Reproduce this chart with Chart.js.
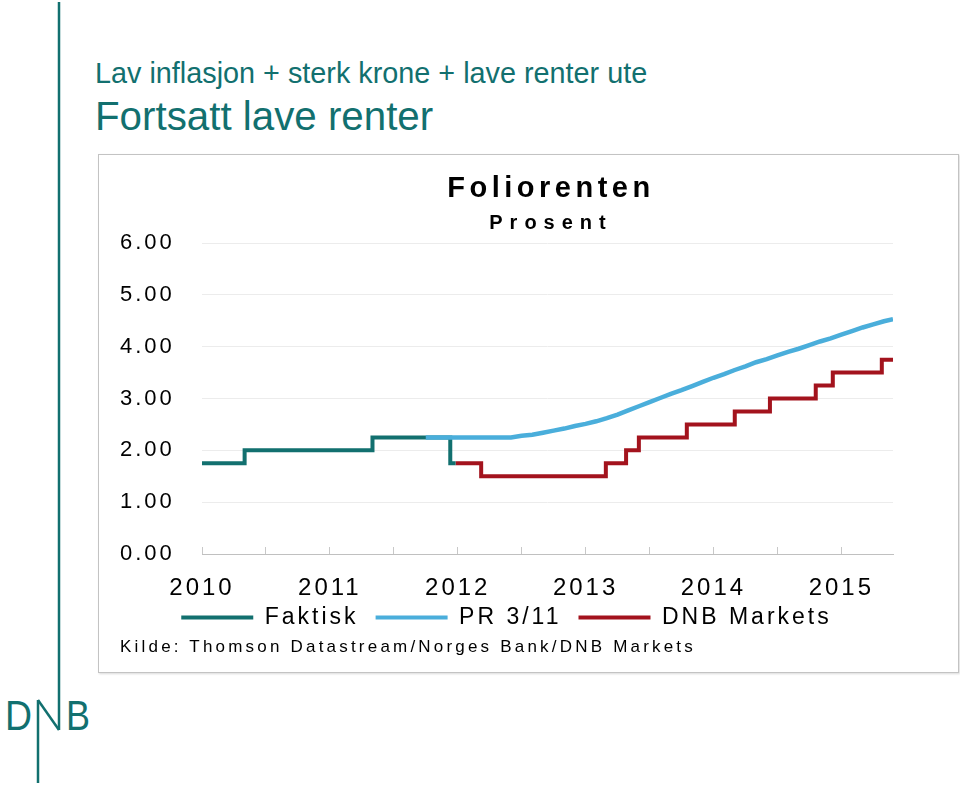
<!DOCTYPE html>
<html>
<head>
<meta charset="utf-8">
<title>Foliorenten</title>
<script src="https://cdn.jsdelivr.net/npm/chart.js@4.4.0/dist/chart.umd.min.js"></script>
<style>
  body { margin: 0; background: #fff; font-family: "Liberation Sans", Arial, sans-serif; }
  #page { position: relative; width: 960px; height: 785px; overflow: hidden; }
  .head { position: absolute; left: 95px; color: #12706f; line-height: 1; white-space: nowrap; }
  #h1 { top: 59px; font-size: 28.8px; }
  #h2 { top: 97px; font-size: 40.3px; }
  #logo { position: absolute; left: 0; top: 0; }
  #box { position: absolute; left: 98px; top: 154px; width: 859px; height: 517px;
         border: 1px solid #c3c3c3; box-shadow: 1px 1px 2px rgba(0,0,0,.15); background: #fff; }
  #chart { position: absolute; left: 0; top: 0; }
  .ct { position: absolute; line-height: 1; white-space: nowrap; color: #000; }
  #title { left: 252px; width: 400px; text-align: center; top: 18px; font-size: 29px; font-weight: bold; letter-spacing: 4.5px; }
  #sub { left: 252px; width: 400px; text-align: center; top: 57px; font-size: 20px; font-weight: bold; letter-spacing: 7px; }
  #kilde { left: 21px; top: 483px; font-size: 17px; letter-spacing: 3.2px; }
</style>
</head>
<body>
<div id="page">
  <svg id="logo" width="960" height="785">
    <g stroke="#12706f" stroke-width="2.5" fill="none">
      <line x1="59" y1="2" x2="59" y2="730"/>
      <line x1="38" y1="700" x2="59" y2="730"/>
      <line x1="38" y1="700" x2="38" y2="783"/>
    </g>
    <text x="5" y="730" font-size="42" fill="#12706f" textLength="27" lengthAdjust="spacingAndGlyphs">D</text>
    <text x="66" y="730" font-size="42" fill="#12706f" textLength="24" lengthAdjust="spacingAndGlyphs">B</text>
  </svg>
  <div class="head" id="h1">Lav inflasjon + sterk krone + lave renter ute</div>
  <div class="head" id="h2">Fortsatt lave renter</div>
  <div id="box">
    <canvas id="chart" width="859" height="517"></canvas>
    <div class="ct" id="title">Foliorenten</div>
    <div class="ct" id="sub">Prosent</div>
    <div class="ct" id="kilde">Kilde: Thomson Datastream/Norges Bank/DNB Markets</div>
  </div>
</div>
<script>
// x = months since January 2010
const yearLabels = ['2010', '2011', '2012', '2013', '2014', '2015'];
const seriesNames = ['Faktisk', 'PR 3/11', 'DNB Markets'];

const faktiskX = [0, 4, 16, 23.3, 23.8];
const faktiskY = [1.75, 2.00, 2.25, 1.75, 1.75];

const prX = [21, 22, 23, 24, 25, 26, 27, 28, 29, 30, 31, 32, 33, 34, 35, 36, 37, 38, 39, 40,
             41, 42, 43, 44, 45, 46, 47, 48, 49, 50, 51, 52, 53, 54, 55, 56, 57, 58, 59, 60,
             61, 62, 63, 64, 64.85];
const prY = [2.25, 2.25, 2.25, 2.25, 2.25, 2.25, 2.25, 2.25, 2.25, 2.28, 2.30, 2.34, 2.38, 2.42, 2.47, 2.51, 2.56, 2.62, 2.69, 2.77,
             2.85, 2.93, 3.01, 3.09, 3.16, 3.24, 3.32, 3.40, 3.47, 3.55, 3.62, 3.70, 3.76, 3.83, 3.90, 3.96, 4.03, 4.10, 4.16, 4.23,
             4.30, 4.37, 4.43, 4.49, 4.53];

const dnbX = [23.8, 26.2, 37.9, 39.8, 41.0, 45.5, 50.0, 53.3, 57.6, 59.2, 63.8, 64.85];
const dnbY = [1.75, 1.50, 1.75, 2.00, 2.25, 2.50, 2.75, 3.00, 3.25, 3.50, 3.75, 3.75];

const colors = ['#12706f', '#4aaedb', '#a3131d'];

const toPoints = (xs, ys) => xs.map((x, i) => ({ x: x, y: ys[i] }));

// wide letter spacing like the original export
const letterSpace = {
    id: 'letterSpace',
    beforeUpdate(chart) { chart.ctx.letterSpacing = '3px'; },
    beforeDraw(chart) { chart.ctx.letterSpacing = '3px'; }
};

// pull the legend up closer to the year labels
const legendNudge = {
    id: 'legendNudge',
    afterLayout(chart) {
        chart.legend.top -= 14;
        chart.legend.bottom -= 14;
    }
};

Chart.defaults.font.family = '"Liberation Sans", Arial, sans-serif';
Chart.defaults.color = '#000';

const line = (i, pts, extra) => Object.assign({
    label: seriesNames[i],
    data: pts,
    borderColor: colors[i],
    backgroundColor: colors[i],
    pointBorderColor: colors[i],
    pointBorderWidth: 4,
    borderWidth: 4,
    pointRadius: 0,
    fill: false
}, extra);

new Chart(document.getElementById('chart').getContext('2d'), {
    type: 'line',
    data: {
        datasets: [
            line(0, toPoints(faktiskX, faktiskY), { stepped: true, order: 1 }),
            line(1, toPoints(prX, prY), { tension: 0, order: 0, borderWidth: 4.5 }),
            line(2, toPoints(dnbX, dnbY), { stepped: true, order: 2 })
        ]
    },
    options: {
        responsive: false,
        animation: false,
        layout: { padding: { left: 21, right: 65, top: 88, bottom: 19 } },
        scales: {
            x: {
                type: 'linear',
                min: 0,
                max: 64.85,
                grid: { display: true, drawOnChartArea: false, drawTicks: true, tickLength: -7, color: '#c8c8c8' },
                border: { display: true, color: '#c0c0c0', width: 1 },
                ticks: {
                    stepSize: 6,
                    includeBounds: false,
                    autoSkip: false,
                    maxRotation: 0,
                    padding: 27,
                    font: { size: 24 },
                    callback: (v) => (v % 12 === 0 ? yearLabels[v / 12] : '')
                },
                afterFit: (s) => { s.height = 49; }
            },
            y: {
                min: 0,
                max: 6,
                grid: { color: '#ececec', drawTicks: false },
                border: { display: false },
                ticks: {
                    stepSize: 1,
                    crossAlign: 'far',
                    font: { size: 22 },
                    callback: (v) => v.toFixed(2)
                },
                afterFit: (s) => { s.width = 82; }
            }
        },
        plugins: {
            legend: {
                position: 'bottom',
                labels: {
                    usePointStyle: true,
                    pointStyle: 'line',
                    pointStyleWidth: 72,
                    padding: 17,
                    font: { size: 23 },
                    sort: (a, b) => a.datasetIndex - b.datasetIndex
                }
            },
            tooltip: { enabled: false }
        }
    },
    plugins: [letterSpace, legendNudge]
});
</script>
</body>
</html>
